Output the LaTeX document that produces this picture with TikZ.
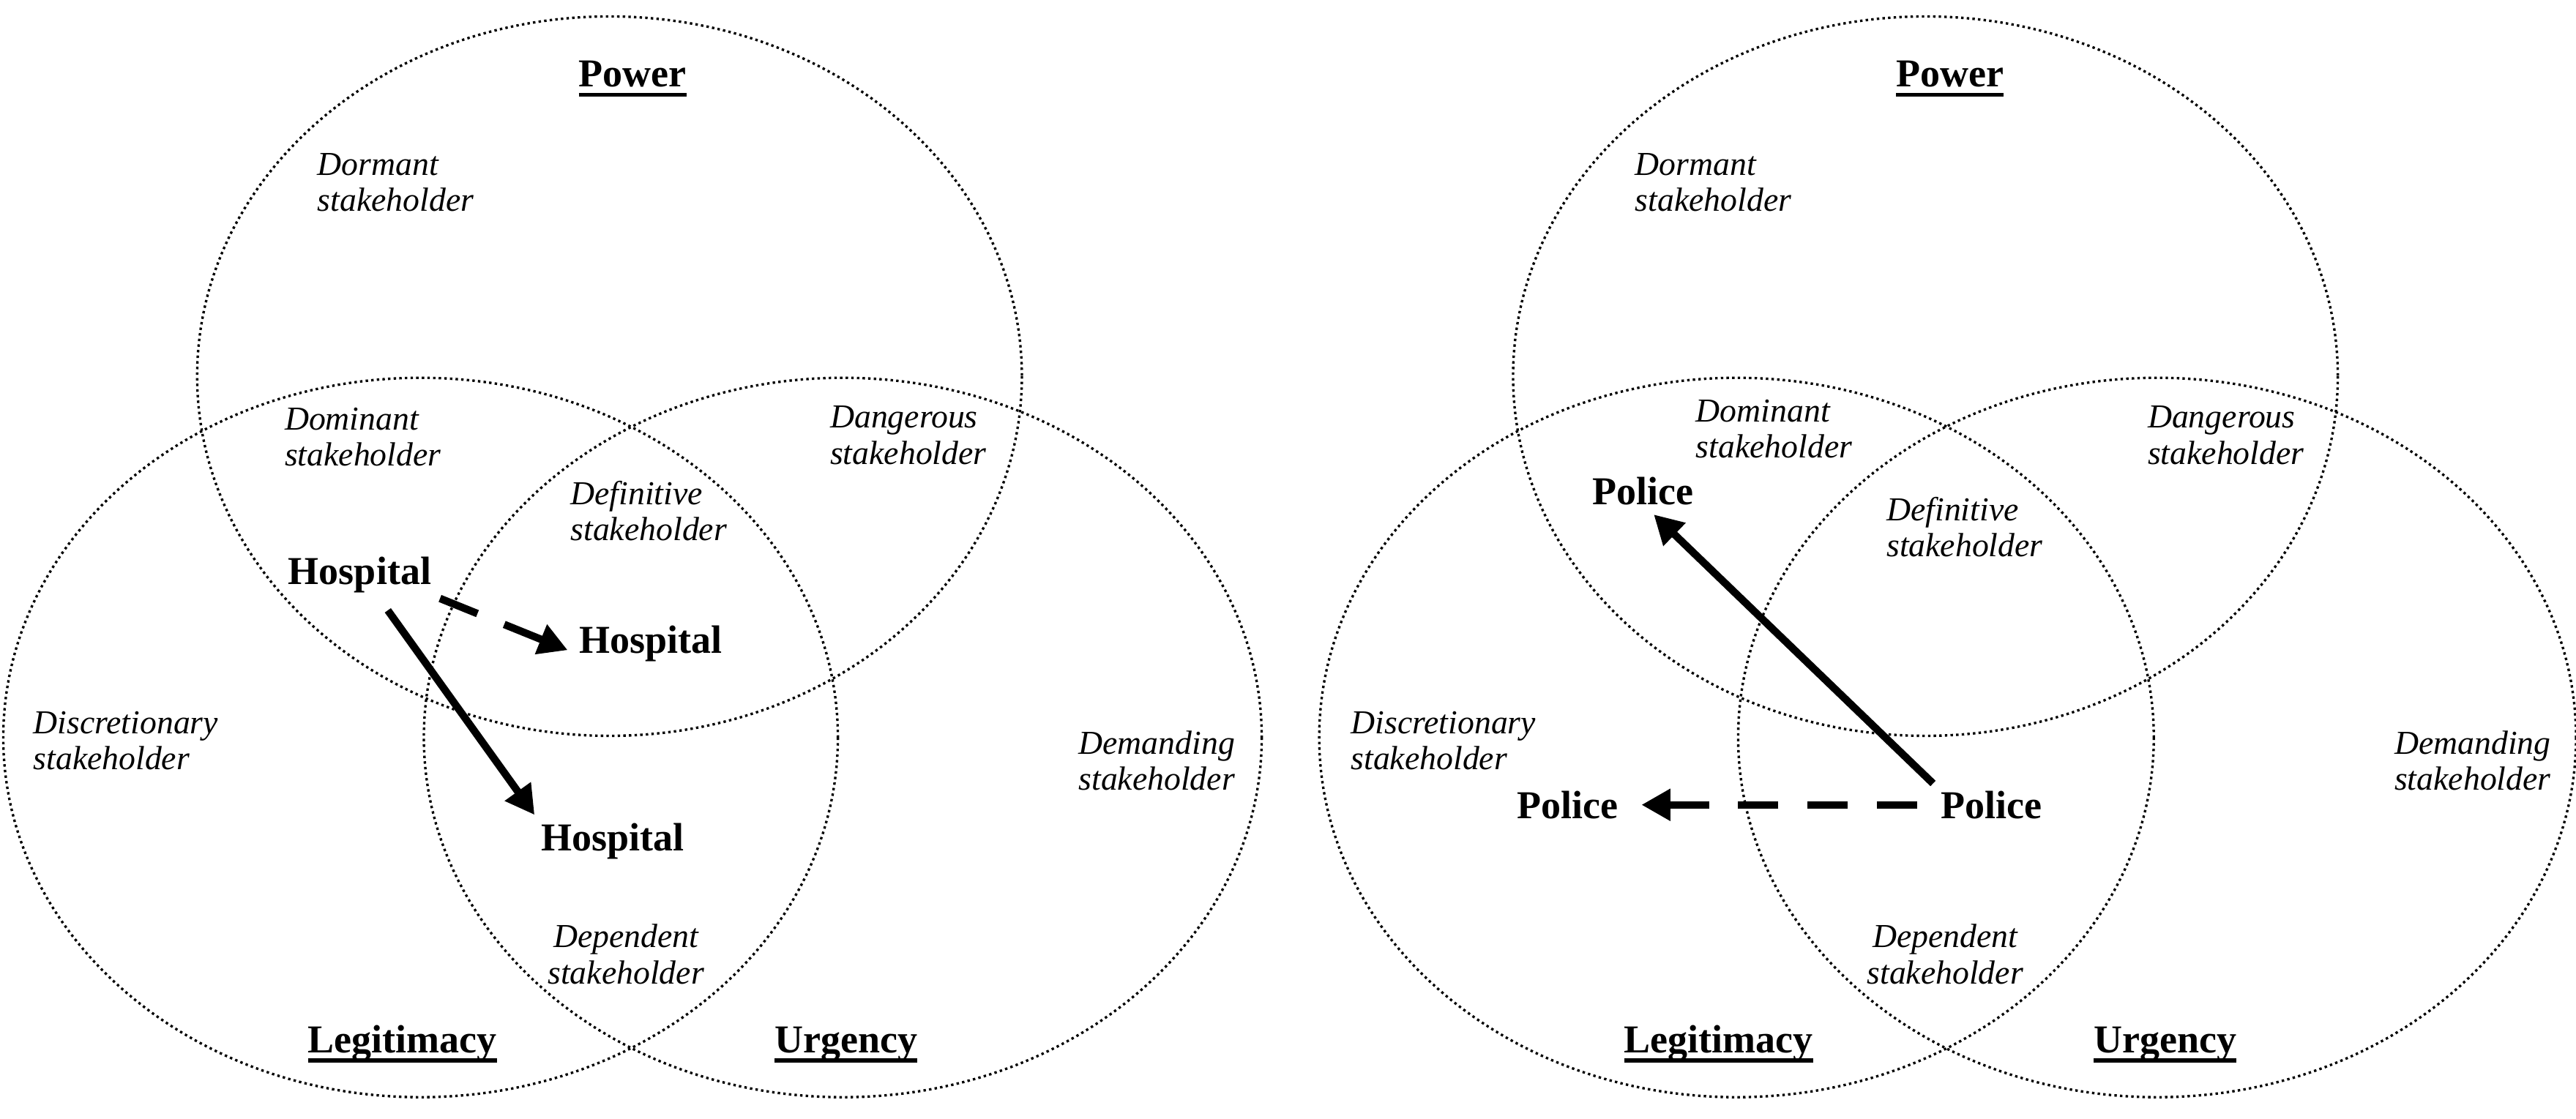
\documentclass[tikz,border=0pt]{standalone}
\usepackage{fontspec}
\setmainfont{Liberation Serif}
\usetikzlibrary{arrows.meta, positioning}
\newcommand{\keyword}[1]{\leavevmode\setbox0\hbox{#1}\rlap{\vrule width\wd0 height -2pt depth 3.4pt}\box0}

\begin{document}
\begin{tikzpicture}[
    x=0.02cm, y=-0.02cm,
    circ/.style={draw, line width=0.85pt, dash pattern=on 0.85pt off 1.1pt},
    attr/.style={font=\fontsize{13.7}{15}\selectfont\bfseries, inner sep=0pt, anchor=base},
    kind/.style={font=\fontsize{11.6}{12.5}\selectfont\itshape, align=left, inner sep=0pt, anchor=west},
    actor/.style={font=\fontsize{13.7}{15}\selectfont\bfseries, inner sep=1pt},
    arrow/.style={-{Triangle[length=10pt, width=10.5pt]}, line width=2.6pt},
    dasharrow/.style={arrow, dash pattern=on 14pt off 10pt}
]
    \useasboundingbox (0,0) rectangle (1568,681);

    % left diagram: hospital
    \draw[circ] (371,229) ellipse [x radius=251, y radius=219];
    \draw[circ] (256,449) ellipse [x radius=254, y radius=219];
    \draw[circ] (513,449) ellipse [x radius=255, y radius=219];

    \node[attr] (powL) at (385,53) {\keyword{Power}};
    \node[attr] (legL) at (245,641) {\keyword{Legitimacy}};
    \node[attr] (urgL) at (515,641) {\keyword{Urgency}};

    \node[kind] (dormL) at (193,111) {Dormant\\stakeholder};
    \node[kind] (domL) at (173,266) {Dominant\\stakeholder};
    \node[kind] (dangL) at (505,265) {Dangerous\\stakeholder};
    \node[kind] (defL) at (347,311) {Definitive\\stakeholder};
    \node[kind] (discL) at (20,451) {Discretionary\\stakeholder};
    \node[kind, anchor=east, align=right] (demL) at (752,463) {Demanding\\stakeholder};
    \node[kind, anchor=center, align=center] (depL) at (381,581) {Dependent\\stakeholder};

    \node[actor] (hosp1) at (219,350) {Hospital};
    \node[actor] (hosp2) at (396,392) {Hospital};
    \node[actor] (hosp3) at (373,512) {Hospital};

    \draw[dasharrow, shorten <=2pt, shorten >=3pt] (hosp1.south east) -- (hosp2.base west);
    \draw[arrow, shorten <=6pt, shorten >=2pt] (hosp1.-50) -- (hosp3.north west);

    % right diagram: police
    \draw[circ] (1172,229) ellipse [x radius=251, y radius=219];
    \draw[circ] (1057,449) ellipse [x radius=254, y radius=219];
    \draw[circ] (1313,449) ellipse [x radius=255, y radius=219];

    \node[attr] (powR) at (1187,53) {\keyword{Power}};
    \node[attr] (legR) at (1046,641) {\keyword{Legitimacy}};
    \node[attr] (urgR) at (1318,641) {\keyword{Urgency}};

    \node[kind] (dormR) at (995,111) {Dormant\\stakeholder};
    \node[kind] (domR) at (1032,261) {Dominant\\stakeholder};
    \node[kind] (dangR) at (1307,265) {Dangerous\\stakeholder};
    \node[kind] (defR) at (1148,321) {Definitive\\stakeholder};
    \node[kind] (discR) at (822,451) {Discretionary\\stakeholder};
    \node[kind, anchor=east, align=right] (demR) at (1553,463) {Demanding\\stakeholder};
    \node[kind, anchor=center, align=center] (depR) at (1184,581) {Dependent\\stakeholder};

    \node[actor] (pol1) at (1000,299) {Police};
    \node[actor] (pol2) at (954,490) {Police};
    \node[actor] (pol3) at (1212,490) {Police};

    \draw[arrow, shorten <=2pt, shorten >=3pt] (pol3.north west) -- (pol1.-75);
    \draw[dasharrow, shorten <=7pt, shorten >=7pt] (pol3.west) -- (pol2.east);
\end{tikzpicture}
\end{document}
